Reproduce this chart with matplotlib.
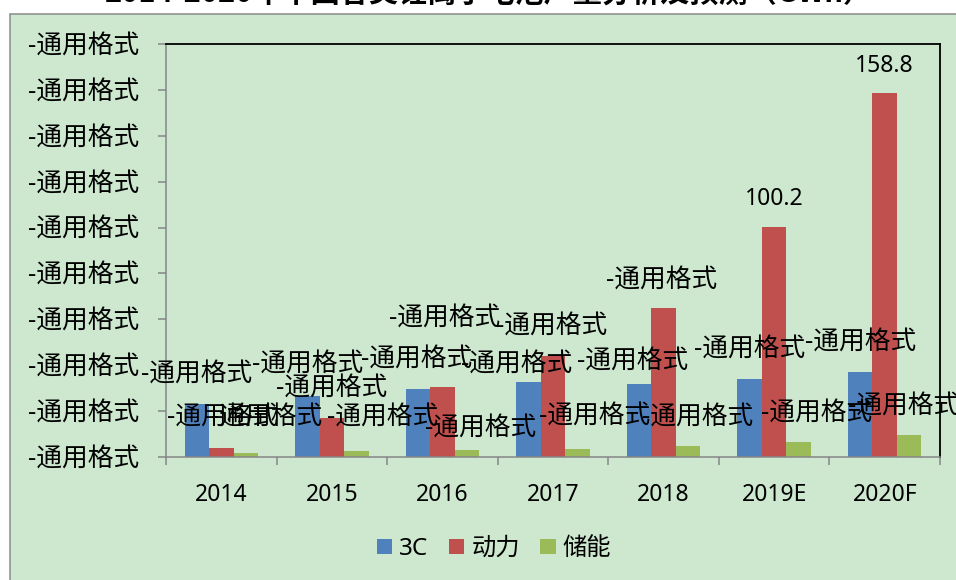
import matplotlib
matplotlib.use("Agg")
import matplotlib.pyplot as plt
from matplotlib.patches import Rectangle, Patch
import numpy as np

plt.rcParams['font.family'] = ['Noto Sans', 'Noto Sans CJK SC', 'DejaVu Sans']

# ---- data ----
years = ["2014", "2015", "2016", "2017", "2018", "2019E", "2020F"]
series_names = ["3C", "动力", "储能"]
c3 = [23.1, 26.6, 29.6, 32.5, 31.6, 33.8, 36.9]
power = [3.9, 16.8, 30.7, 44.2, 65.0, 100.2, 158.8]
storage = [1.6, 2.6, 2.9, 3.4, 4.8, 6.6, 9.4]
labels_c3 = ["-通用格式"] * 7
labels_power = ["-通用格式"] * 5 + ["100.2", "158.8"]
labels_storage = ["-通用格式"] * 7
ytick_values = list(range(0, 181, 20))
ytick_labels = ["-通用格式"] * len(ytick_values)
title = "2014-2020年中国各类锂离子电池产量分析及预测（GWh）"

# ---- style / layout ----
colors = ["#4F81BD", "#C0504D", "#9BBB59"]
bg = "#CDE8CF"
grey = "#868686"
# label nudges in pixels (dx, dy) relative to the top centre of each bar
nudge_c3 = [(0, 29), (0, 31), (-1, 29), (-12, 17), (-6, 22), (0, 29), (0, 29)]
nudge_power = [(1, 30), (0, 29), (2, 67), (-1, 28), (-2, 27), (0, 28), (0, 27)]
nudge_storage = [(21, 35), (26, 33), (14, 21), (17, 32), (10, 28), (18, 28), (-6, 28)]

W, H = 956, 580
fig = plt.figure(figsize=(W / 100, H / 100), dpi=100)
fig.patch.set_facecolor("white")

# chart area
fig.patches.append(Rectangle((10 / W, -0.05), 1.2, 1.05 - 14 / H, transform=fig.transFigure,
                             facecolor=bg, edgecolor="#8A8A8A", linewidth=1.1, zorder=0))

fig.text(489 / W, 1 + 7 / H, title, ha="center", va="center", fontsize=21, fontweight="bold",
         family=["Noto Sans CJK SC"], color="black", zorder=3)

ax = fig.add_axes([166 / W, 1 - 457 / H, (940 - 166) / W, (457 - 44) / H])
ax.set_zorder(2)
ax.set_facecolor("none")

x = np.arange(len(years))
bw = 0.2215
all_series = [c3, power, storage]
all_labels = [labels_c3, labels_power, labels_storage]
all_nudges = [nudge_c3, nudge_power, nudge_storage]
for k, (vals, col) in enumerate(zip(all_series, colors)):
    xs = x + (k - 1) * bw
    ax.bar(xs, vals, width=bw, color=col, edgecolor="none", zorder=2, label=series_names[k])
for k, (vals, labs, nud) in enumerate(zip(all_series, all_labels, all_nudges)):
    xs = x + (k - 1) * bw
    for xi, v, lab, (dx, dy) in zip(xs, vals, labs, nud):
        numeric = not lab.startswith("-")
        ax.annotate(lab, xy=(xi, v), xytext=(dx, dy), textcoords="offset pixels",
                    ha="center", va="center", fontsize=16.5 if numeric else 18.5,
                    color="black", zorder=5, annotation_clip=False)

ax.set_xlim(-0.5, len(years) - 0.5)
ax.set_ylim(0, 180)
ax.set_yticks(ytick_values)
ax.set_yticklabels(ytick_labels, fontsize=18.5)
ax.tick_params(axis="y", direction="out", length=6, width=1.1, color=grey, pad=13)

ax.set_xticks(x)
ax.set_xticklabels(years, fontsize=16.5)
ax.set_xticks(np.arange(-0.5, len(years), 1.0), minor=True)
ax.tick_params(axis="x", which="major", length=0, pad=19)
ax.tick_params(axis="x", which="minor", direction="out", length=6, width=1.1, color=grey)

for s in ["top", "right"]:
    ax.spines[s].set_color("black")
    ax.spines[s].set_linewidth(1.3)
for s in ["left", "bottom"]:
    ax.spines[s].set_color(grey)
    ax.spines[s].set_linewidth(1.1)

handles = [Patch(facecolor=c, edgecolor="none") for c in colors]
fig.legend(handles, series_names, loc="center", bbox_to_anchor=(494 / W, 1 - 549 / H),
           ncol=3, frameon=False, fontsize=17.5, handlelength=0.62, handleheight=0.62,
           handletextpad=0.3, columnspacing=0.85, borderpad=0)

fig.savefig("out.png", dpi=100, facecolor=fig.get_facecolor())
